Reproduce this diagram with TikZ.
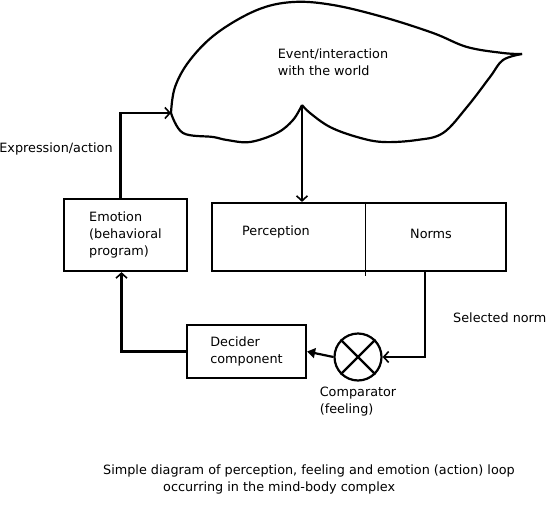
\documentclass[tikz,border=0pt]{standalone}
\usepackage{fontspec}
\setmainfont{DejaVu Sans}
\usetikzlibrary{positioning, arrows.meta, shapes.geometric}

\begin{document}
\begin{tikzpicture}[
    x=1pt, y=-1pt,
    font=\fontsize{12.8}{17}\selectfont,
    box/.style={draw, rectangle, line width=2.2pt, align=left, inner sep=0pt},
    arrow/.style={-{Straight Barb[length=5pt, width=11pt, line width=1.6pt]}, line width=2.2pt},
    fillarrow/.style={-{Triangle[length=8pt, width=10pt]}, line width=2.2pt},
    label/.style={align=left, inner sep=0pt}
]
    \useasboundingbox (0,0) rectangle (548,511);

    % Nuage
    \coordinate (cloudL) at (171,113);
    \coordinate (cusp) at (302,105);
    \coordinate (tip) at (522,54);
    \draw[line width=2.2pt] plot[smooth, tension=0.6] coordinates {(cloudL) (175,87) (190,60) (217,33) (257,10) (293,2) (333,5) (383,17) (433,33) (467,47) (503,53) (tip)};
    \draw[line width=2.2pt] plot[smooth, tension=0.6] coordinates {(tip) (503,60) (490,77) (467,107) (443,133) (417,140) (383,142) (357,137) (330,127) (310,113) (cusp)};
    \draw[line width=2.2pt] plot[smooth, tension=0.6] coordinates {(cusp) (293,120) (277,133) (250,142) (227,140) (213,137) (183,133) (cloudL)};
    \node[label] (event) at (333,62) {Event/interaction\\with the world};

    % Emotion
    \node[box, minimum width=123, minimum height=72] (emotion) at (125.5,235) {Emotion\\(behavioral\\program)};
    \node[label] (expr) at (56,149) {Expression/action};
    \draw[arrow] ([xshift=-5]emotion.north) |- (cloudL);

    % Perception / Norms
    \node[box, minimum width=294, minimum height=68] (percbox) at (359,237) {};
    \node[label] (perception) at (276,232) {Perception};
    \node[label] (norms) at (431,234) {Norms};
    \draw[line width=1pt] ([xshift=6]percbox.north) -- ([xshift=6,yshift=-4]percbox.south);
    \draw[arrow] (cusp) -- (cusp |- percbox.north);

    % Comparateur
    \node[draw, circle, line width=2.2pt, minimum size=47, inner sep=0pt] (comp) at (358,357) {};
    \draw[line width=2.2pt] (comp.north west) -- (comp.south east);
    \draw[line width=2.2pt] (comp.south west) -- (comp.north east);
    \node[label, below=5pt of comp] (comptext) {Comparator\\(feeling)};
    \coordinate (normout) at (425,271);
    \draw[arrow] (normout) |- (comp.east);
    \node[label, anchor=west] (selnorm) at (453,318) {Selected norm};

    % Decider
    \node[box, minimum width=119, minimum height=53] (decider) at (246.5,351.5) {Decider\\component};
    \draw[fillarrow] (comp.west) -- (decider.east);
    \draw[arrow] (decider.west) -| ([xshift=-4]emotion.south);

    % Legende
    \node[label, anchor=west] (cap1) at (103,471) {Simple diagram of perception, feeling and emotion (action) loop};
    \node[label, anchor=west] (cap2) at (163,488) {occurring in the mind-body complex};
\end{tikzpicture}
\end{document}
